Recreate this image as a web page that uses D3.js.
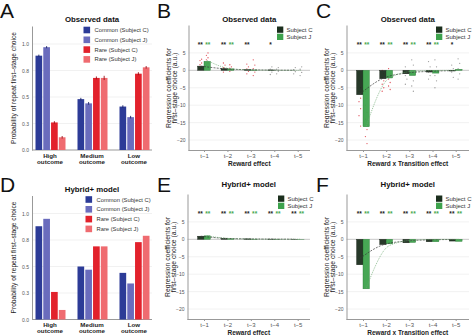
<!DOCTYPE html>
<html>
<head>
<meta charset="utf-8">
<script src="https://cdn.jsdelivr.net/npm/d3@7/dist/d3.min.js"></script>
<style>
body { margin: 0; background: #fff; }
svg { display: block; font-family: "Liberation Sans", Arial, sans-serif; }
</style>
</head>
<body>
<svg id="fig" width="474" height="335"></svg>
<script>
// ---- données ----
const categories = ["High outcome", "Medium outcome", "Low outcome"];
const probSeries = ["Common (Subject C)", "Common (Subject J)", "Rare (Subject C)", "Rare (Subject J)"];
const probColors = ["#2c3b97", "#6a6cbd", "#e2222c", "#ef6b70"];
const probTicks = [0, 0.25, 0.5, 0.75, 1];

// A : observé  (lignes = catégories, colonnes = séries)
const obsProb = [[0.89, 0.97, 0.26, 0.12], [0.48, 0.44, 0.68, 0.68], [0.41, 0.31, 0.72, 0.78]];
const obsErr  = [[0.01, 0.01, 0.012, 0.012], [0.012, 0.013, 0.014, 0.02], [0.012, 0.012, 0.014, 0.012]];
// D : modèle hybride+
const modProb = [[0.88, 0.95, 0.26, 0.09], [0.50, 0.47, 0.69, 0.69], [0.44, 0.34, 0.73, 0.79]];

const lags = ["t\u22121", "t\u22122", "t\u22123", "t\u22124", "t\u22125"];
const subjects = ["Subject C", "Subject J"];
const subjColors = ["#1b2e1d", "#3da24c"];
const regTicks = [5, 0, -5, -10, -15, -20];

// B : effet récompense observé
const obsRewC = [1.2, 0.5, 0.2, 0.1, 0.0];
const obsRewJ = [2.6, 0.4, 0.1, 0.0, 0.0];
const obsRewFitC = [1.2, 0.45, 0.17, 0.06, 0.02];
const obsRewFitJ = [2.8, 0.45, 0.08, 0.02, 0.0];
const obsRewStars = [["**", "**"], ["**", "**"], ["**", ""], ["*", ""], ["", ""]];
const obsRewPtsC = [[0.5, 1.0, 1.6, 2.1, 2.8, 3.2], [-0.5, 0.3, 0.8, 1.5, 2.1], [-1.0, -0.3, 0.4, 1.0, 1.8], [-1.2, -0.5, 0.3, 1.0], [-1.0, -0.4, 0.2, 0.8]];
const obsRewPtsJ = [[1.5, 2.1, 3.0, 3.6, 4.3, 5.0], [-0.3, 0.2, 0.6, 1.0, 1.6], [-1.5, -0.5, 0.5, 1.5, 3.0], [-1.0, -0.3, 0.3, 0.8], [-1.5, -0.6, 0.3, 1.0]];
const obsRewRed = [true, true, true, false, false];

// C : effet récompense x transition observé
const obsTrC = [-7.0, -2.4, -1.0, -0.5, -0.2];
const obsTrJ = [-16.2, -2.2, -1.5, -0.8, 0.3];
const obsTrFitC = [-6.8, -2.3, -0.8, -0.3, -0.1];
const obsTrFitJ = [-16.0, -2.2, -0.3, -0.05, 0.0];
const obsTrStars = [["**", "**"], ["**", "**"], ["**", "**"], ["**", "**"], ["*", ""]];
const obsTrPtsC = [[-3, -5, -6, -8, -9, -11, -13, -16], [0, -1, -2, -3, -4, -5, -6], [1, -0.5, -1.5, -2.5, -4], [2.5, 1, -0.5, -1.5, -2.5], [1.5, 0.5, -0.5, -2]];
const obsTrPtsJ = [[-6, -8, -10, -12, -14, -17, -19, -21], [0.5, -1, -2.5, -3.5, -4.5, -5.5], [3, 1.5, -1, -3, -4.5, -6], [3, 1, -1.5, -3, -5], [3.3, 2, 0.5, -1, -2.5]];
const obsTrRed = [true, true, false, false, false];

// E : effet récompense modèle
const modRewC = [0.9, 0.3, 0.12, 0.06, 0.03];
const modRewJ = [1.0, 0.15, 0.05, 0.02, 0.01];
const modRewFitC = [0.9, 0.3, 0.12, 0.06, 0.03];
const modRewFitJ = [1.0, 0.2, 0.06, 0.02, 0.01];
const modStars = [["**", "**"], ["**", "**"], ["**", "**"], ["**", "**"], ["**", "**"]];

// F : effet récompense x transition modèle
const modTrC = [-7.3, -1.5, -1.0, -0.7, -0.5];
const modTrJ = [-14.2, -1.3, -0.9, -0.7, -0.6];
const modTrFitC = [-5.5, -1.6, -0.5, -0.15, -0.05];
const modTrFitJ = [-14.0, -1.8, -0.25, -0.03, 0.0];

const svg = d3.select("#fig");
const grey = "#555";

function lettre(x, y, t) {
    svg.append("text").attr("x", x).attr("y", y).attr("font-size", 21).attr("fill", "#111").text(t);
}

// panneaux de probabilité (A, D)
function panneauProba(dy, titre, vals, errs, legX) {
    const g = svg.append("g").attr("transform", `translate(0,${dy})`);
    const y = d3.scaleLinear().domain([0, 1.17]).range([150, 26]);
    const x = d3.scaleBand().domain(categories).range([29, 155]);
    const xs = d3.scaleBand().domain(probSeries).range([6.5, 36.5]).paddingInner(0.14);

    g.selectAll(".grille").data(probTicks.filter(d => d > 0)).join("line")
        .attr("x1", 32).attr("x2", 152)
        .attr("y1", d => y(d)).attr("y2", d => y(d))
        .attr("stroke", "#ebebeb").attr("stroke-width", 0.7);

    const ax = g.append("g").attr("transform", "translate(32,0)")
        .call(d3.axisLeft(y).tickValues(probTicks).tickSize(0).tickSizeOuter(0).tickPadding(3));
    ax.select(".domain").attr("stroke", "#999");
    ax.selectAll("text").attr("font-size", 5).attr("fill", grey).attr("font-family", null);

    g.append("line").attr("x1", 32).attr("x2", 152).attr("y1", y(0)).attr("y2", y(0)).attr("stroke", "#999");

    const grp = g.selectAll(".grp").data(categories).join("g")
        .attr("transform", d => `translate(${x(d)},0)`);
    grp.selectAll("rect").data((d, i) => vals[i].map((v, j) => ({ s: probSeries[j], v: v, j: j })))
        .join("rect")
        .attr("x", d => xs(d.s)).attr("width", xs.bandwidth())
        .attr("y", d => y(d.v)).attr("height", d => y(0) - y(d.v))
        .attr("fill", d => probColors[d.j]);
    if (errs) {
        grp.selectAll(".err").data((d, i) => errs[i].map((e, j) => ({ s: probSeries[j], v: vals[i][j], e: e, j: j })))
            .join("line")
            .attr("x1", d => xs(d.s) + xs.bandwidth() / 2).attr("x2", d => xs(d.s) + xs.bandwidth() / 2)
            .attr("y1", d => y(d.v - d.e)).attr("y2", d => y(d.v + d.e))
            .attr("stroke", d => d.j < 2 ? "#1a2466" : "#9a1017").attr("stroke-width", 0.9);
    }
    // étiquettes de catégories
    grp.each(function (d) {
        const mots = d.split(" ");
        const t = d3.select(this).append("text").attr("x", x.bandwidth() / 2).attr("y", 157.5)
            .attr("text-anchor", "middle").attr("font-size", 6.2).attr("font-weight", "bold").attr("fill", "#222");
        t.append("tspan").attr("x", x.bandwidth() / 2).text(mots[0]);
        t.append("tspan").attr("x", x.bandwidth() / 2).attr("dy", 6).text(mots[1]);
    });

    g.append("text").attr("x", 92).attr("y", 22).attr("text-anchor", "middle")
        .attr("font-size", 7.8).attr("font-weight", "bold").attr("fill", "#111").text(titre);

    g.append("text").attr("transform", "translate(16,88) rotate(-90)").attr("text-anchor", "middle")
        .attr("font-size", 6.6).attr("fill", "#222").text("Probability of repeat first\u2013stage choice");

    const leg = g.selectAll(".leg").data(probSeries).join("g")
        .attr("transform", (d, i) => `translate(${legX},${26.7 + i * 9.8})`);
    leg.append("rect").attr("width", 6.6).attr("height", 6.6).attr("fill", (d, i) => probColors[i]);
    leg.append("text").attr("x", 11).attr("y", 5.4).attr("font-size", 5.8).attr("fill", "#333").text(d => d);
}

// panneaux de régression (B, C, E, F)
function panneauReg(o) {
    const g = svg.append("g").attr("transform", `translate(0,${o.dy})`);
    const y = d3.scaleLinear().domain([-23, 13]).range([150.5, 25]);
    const x = d3.scalePoint().domain(lags).range([o.t1, o.t5]);
    const bw = 6.4;

    g.selectAll(".grille").data(regTicks).join("line")
        .attr("x1", o.ax0).attr("x2", o.ax1)
        .attr("y1", d => y(d)).attr("y2", d => y(d))
        .attr("stroke", d => d === 0 ? "#c8c8c8" : "#ececec").attr("stroke-width", d => d === 0 ? 1 : 0.7);

    const ax = g.append("g").attr("transform", `translate(${o.ax0},0)`)
        .call(d3.axisLeft(y).tickValues(regTicks).tickSize(0).tickSizeOuter(0).tickPadding(3));
    ax.select(".domain").attr("stroke", "#999");
    ax.selectAll("text").attr("font-size", 5).attr("fill", grey).attr("font-family", null);

    g.append("line").attr("x1", o.ax0).attr("x2", o.ax1).attr("y1", y(-23)).attr("y2", y(-23)).attr("stroke", "#999");
    const xa = g.append("g").attr("transform", `translate(0,${y(-23)})`)
        .call(d3.axisBottom(x).tickSize(1.5).tickSizeOuter(0).tickPadding(2));
    xa.select(".domain").remove();
    xa.selectAll("line").attr("stroke", "#999");
    xa.selectAll("text").attr("font-size", 6).attr("fill", grey).attr("font-family", null);

    // points individuels
    [o.ptsC, o.ptsJ].forEach((pts, s) => {
        if (!pts) return;
        pts.forEach((vs, li) => {
            g.selectAll(null).data(vs).join("circle")
                .attr("cx", (d, k) => x(lags[li]) + (s === 0 ? -bw / 2 : bw / 2) + (k % 2 ? 0.8 : -0.8))
                .attr("cy", d => y(d)).attr("r", 0.65)
                .attr("fill", o.red[li] ? "#e0505a" : "#9a9a9a");
        });
    });

    // barres
    [o.barsC, o.barsJ].forEach((vals, s) => {
        g.selectAll(null).data(vals).join("rect")
            .attr("x", (d, i) => x(lags[i]) - (s === 0 ? bw : 0)).attr("width", bw)
            .attr("y", d => Math.min(y(d), y(0))).attr("height", d => Math.abs(y(d) - y(0)))
            .attr("fill", subjColors[s]).attr("fill-opacity", 0.95)
            .attr("stroke", s === 0 ? "#0d170e" : "#2a7a36").attr("stroke-width", 0.4);
    });

    // courbes ajustées
    [o.fitC, o.fitJ].forEach((vals, s) => {
        const ligne = d3.line().x((d, i) => x(lags[i]) + (s === 0 ? -bw / 2 : bw / 2)).y(d => y(d)).curve(d3.curveMonotoneX);
        g.append("path").attr("d", ligne(vals)).attr("fill", "none")
            .attr("stroke", s === 0 ? "#3a3a3a" : "#6aa86f").attr("stroke-width", 0.7)
            .attr("stroke-dasharray", s === 0 ? "2,1.2" : "1,1");
    });

    // étoiles
    o.stars.forEach((st, i) => {
        st.forEach((t, s) => {
            g.append("text").attr("x", x(lags[i]) + (s === 0 ? -3.8 : 3.8)).attr("y", y(7.5) + 3)
                .attr("text-anchor", "middle").attr("font-size", 6.5).attr("font-weight", "bold")
                .attr("fill", s === 0 ? "#222" : "#45a84f").text(t);
        });
    });

    const cx = (o.ax0 + o.ax1) / 2;
    g.append("text").attr("x", cx).attr("y", o.titleY).attr("text-anchor", "middle")
        .attr("font-size", 7.8).attr("font-weight", "bold").attr("fill", "#111").text(o.titre);
    g.append("text").attr("x", cx).attr("y", 165.5).attr("text-anchor", "middle")
        .attr("font-size", 6.5).attr("font-weight", "bold").attr("fill", "#222").text(o.xlab);

    const yl = g.append("text").attr("transform", `translate(${o.ax0 - 18},88) rotate(-90)`)
        .attr("text-anchor", "middle").attr("font-size", 6.8).attr("fill", "#222");
    yl.append("tspan").attr("x", 0).attr("dy", 0).text("Regression coefficients for");
    yl.append("tspan").attr("x", 0).attr("dy", 6.2).text("first\u2013stage choice (a.u.)");

    const leg = g.selectAll(".leg").data(subjects).join("g")
        .attr("transform", (d, i) => `translate(${o.legX},${26.5 + i * 7.2})`);
    leg.append("rect").attr("width", 6.3).attr("height", 6.3).attr("fill", (d, i) => subjColors[i]);
    leg.append("text").attr("x", 9.5).attr("y", 5.2).attr("font-size", 6).attr("fill", "#333").text(d => d);
}

panneauProba(0, "Observed data", obsProb, obsErr, 83.5);
panneauProba(169.5, "Hybrid+ model", modProb, null, 85.5);

panneauReg({ dy: 0, ax0: 188.5, ax1: 310, t1: 204, t5: 297.7, titre: "Observed data", titleY: 22, xlab: "Reward effect",
    barsC: obsRewC, barsJ: obsRewJ, fitC: obsRewFitC, fitJ: obsRewFitJ, stars: obsRewStars,
    ptsC: obsRewPtsC, ptsJ: obsRewPtsJ, red: obsRewRed, legX: 277 });
panneauReg({ dy: 0, ax0: 346.5, ax1: 469, t1: 363, t5: 455.7, titre: "Observed data", titleY: 22, xlab: "Reward x Transition effect",
    barsC: obsTrC, barsJ: obsTrJ, fitC: obsTrFitC, fitJ: obsTrFitJ, stars: obsTrStars,
    ptsC: obsTrPtsC, ptsJ: obsTrPtsJ, red: obsTrRed, legX: 436 });
panneauReg({ dy: 169, ax0: 187.5, ax1: 310, t1: 204, t5: 297.7, titre: "Hybrid+ model", titleY: 18, xlab: "Reward effect",
    barsC: modRewC, barsJ: modRewJ, fitC: modRewFitC, fitJ: modRewFitJ, stars: modStars,
    ptsC: null, ptsJ: null, red: [], legX: 278 });
panneauReg({ dy: 169, ax0: 346.5, ax1: 469, t1: 363, t5: 455.7, titre: "Hybrid+ model", titleY: 18, xlab: "Reward x Transition effect",
    barsC: modTrC, barsJ: modTrJ, fitC: modTrFitC, fitJ: modTrFitJ, stars: modStars,
    ptsC: null, ptsJ: null, red: [], legX: 436 });

lettre(0, 18, "A");
lettre(157, 18, "B");
lettre(316, 18, "C");
lettre(0, 191.5, "D");
lettre(157, 191.5, "E");
lettre(316, 191.5, "F");
</script>
</body>
</html>
